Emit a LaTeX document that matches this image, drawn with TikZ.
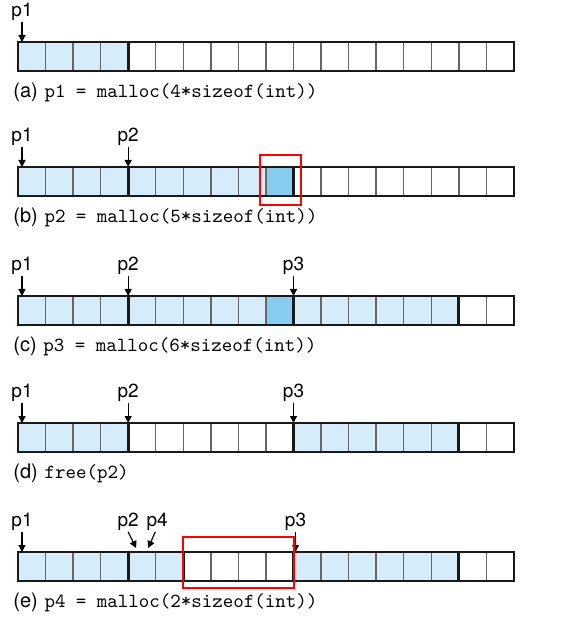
\documentclass[tikz,border=0pt]{standalone}
\usepackage{fontspec}
\setsansfont{TeX Gyre Heros}
\usetikzlibrary{arrows.meta,positioning,calc}
\definecolor{blockblue}{HTML}{D6ECFA}
\definecolor{padblue}{HTML}{86CDF0}
\tikzset{
	heap cell/.style={draw=black!60, line width=0.7pt, minimum width=13.775pt,
		minimum height=14.5pt, inner sep=0pt, outer sep=0pt, anchor=north west},
	cell w/.style={fill=white},
	cell u/.style={fill=blockblue},
	cell p/.style={fill=padblue},
	block edge/.style={line width=1.4pt, black!90},
	ptr/.style={font=\sffamily\fontsize{9.5}{11}\selectfont, inner sep=0.5pt, anchor=south},
	ptr arrow/.style={-{Triangle[length=3.5pt,width=3.5pt]}, line width=0.6pt},
	caption/.style={font=\fontsize{10}{12}\selectfont, anchor=west, inner sep=0pt},
	hilite/.style={draw=red, line width=1pt}
}
\begin{document}
\begin{tikzpicture}[x=0.5pt, y=-0.5pt]
	\useasboundingbox (0,0) rectangle (576,624);
	% the five heap states, one row of 18 words each
	\foreach \r/\top/\fills in {
		a/42/{u,u,u,u,w,w,w,w,w,w,w,w,w,w,w,w,w,w},
		b/167/{u,u,u,u,u,u,u,u,u,p,w,w,w,w,w,w,w,w},
		c/296/{u,u,u,u,u,u,u,u,u,p,u,u,u,u,u,u,w,w},
		d/423/{u,u,u,u,w,w,w,w,w,w,u,u,u,u,u,u,w,w},
		e/552/{u,u,u,u,u,u,w,w,w,w,u,u,u,u,u,u,w,w}}
		\foreach \f [count=\k from 0] in \fills
			\node[heap cell, cell \f] (\r\k) at ({18+27.55*\k},\top) {};
	% block boundaries
	\foreach \r/\edges in {a/{4}, b/{4,10}, c/{4,10,16}, d/{4,10,16}, e/{4,6,10,16}}
		\foreach \k in \edges
			\draw[block edge] (\r\k.north west) -- (\r\k.south west);
	\foreach \r in {a,...,e}
		\draw[block edge] (\r0.north west) rectangle (\r17.south east);
	% pointers
	\foreach \r/\p/\k/\dx in {a/p1/0/2pt, b/p1/0/2pt, b/p2/4/0pt, c/p1/0/2pt, c/p2/4/0pt,
			c/p3/10/0pt, d/p1/0/2pt, d/p2/4/0pt, d/p3/10/0pt, e/p1/0/2pt, e/p3/10/1pt} {
		\node[ptr] (\r-\p) at ([xshift=\dx, yshift=10pt]\r\k.north west) {\p};
		\draw[ptr arrow] (\r-\p.south) -- ([xshift=\dx]\r\k.north west);
	}
	\node[ptr] (e-p2) at ([yshift=10pt]e4.north west) {p2};
	\node[ptr] (e-p4) at ([xshift=14.5pt, yshift=10pt]e4.north west) {p4};
	\draw[ptr arrow] (e-p2.south) -- ([xshift=4pt, yshift=2pt]e4.north west);
	\draw[ptr arrow] ([xshift=-1pt]e-p4.south) -- ([xshift=10pt, yshift=2pt]e4.north west);
	% captions
	\foreach \r/\code in {a/{p1 = malloc(4*sizeof(int))}, b/{p2 = malloc(5*sizeof(int))},
			c/{p3 = malloc(6*sizeof(int))}, d/{free(p2)}, e/{p4 = malloc(2*sizeof(int))}}
		\node[caption] (\r-cap) at ([xshift=-2.5pt, yshift=-10.5pt]\r0.south west)
			{{\sffamily(\r)} \texttt{\code}};
	% highlighted words
	\draw[hilite] ([xshift=-3pt, yshift=6pt]b9.north west) rectangle ([xshift=3.75pt, yshift=-4.5pt]b9.south east);
	\draw[hilite] ([yshift=7.5pt]e6.north west) rectangle ([yshift=-3.5pt]e9.south east);
\end{tikzpicture}
\end{document}
